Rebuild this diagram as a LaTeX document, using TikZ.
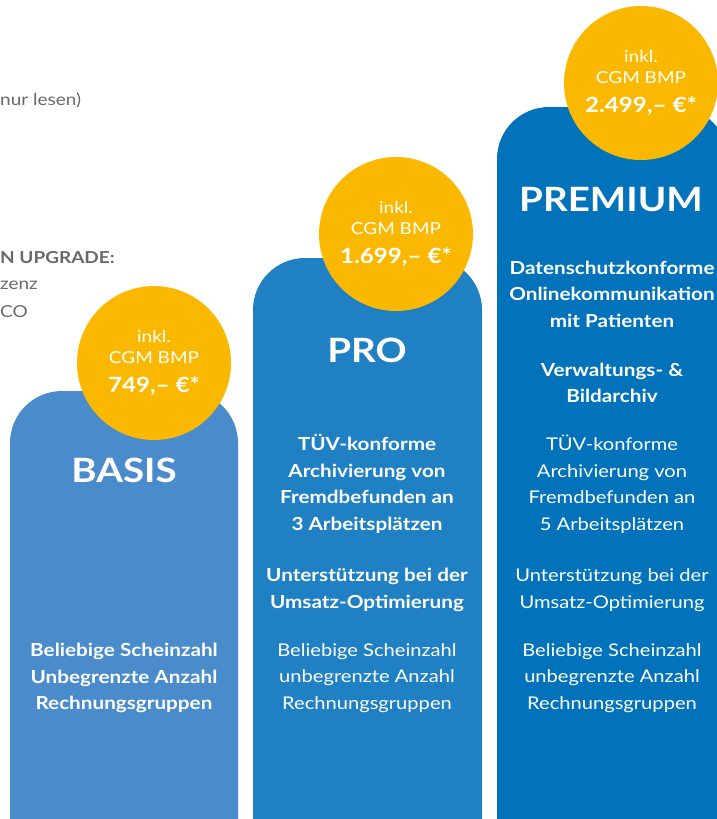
\documentclass[tikz,border=0pt]{standalone}
\usepackage{fontspec}
\setmainfont{Lato}
\newfontfamily\widefont{Lato}[FakeStretch=1.15]
\definecolor{basisblue}{RGB}{74,140,203}
\definecolor{problue}{RGB}{31,128,196}
\definecolor{premiumblue}{RGB}{2,115,187}
\definecolor{pricegold}{RGB}{250,185,0}
\definecolor{notegray}{RGB}{105,105,107}
\newcommand{\drawtarif}[4]{
  \fill[#4,rounded corners=52pt] (#1,860) -- (#1,#3) -- (#2,#3) -- (#2,860);
}
\newcommand{\pricefont}{\bfseries\fontsize{21}{24}\selectfont}
\tikzset{
  pricetag/.style={circle,fill=pricegold,minimum size=154pt,inner sep=0pt,
    text=white,align=center,font=\widefont\fontsize{16.5}{21}\selectfont},
  tiername/.style={text=white,inner sep=0pt,font=\widefont\bfseries\fontsize{33.5}{40}\selectfont},
  featbold/.style={text=white,align=center,inner sep=0pt,font=\widefont\bfseries\fontsize{18}{26.5}\selectfont},
  featplain/.style={text=white,align=center,inner sep=0pt,font=\widefont\fontsize{17.5}{26.5}\selectfont},
  note/.style={text=notegray,anchor=west,inner sep=0pt,font=\widefont\fontsize{16.5}{18}\selectfont}
}

\begin{document}
\begin{tikzpicture}[x=1pt,y=-1pt]
  \useasboundingbox (0,0) rectangle (716,819);

  %% cut-off notes on the left
  \node[note] (notelesen) at (0,100) {nur lesen)};
  \node[note,font=\widefont\bfseries\fontsize{16.5}{18}\selectfont] (noteupgrade) at (0,258) {N UPGRADE:};
  \node[note] (notelizenz) at (0,285) {zenz};
  \node[note] (noteco) at (0,312) {CO};

  %% columns
  \drawtarif{10}{238}{391}{basisblue}
  \drawtarif{253}{482}{258}{problue}
  \drawtarif{497}{728}{107}{premiumblue}

  %% price circles
  \node[pricetag] (basisprice) at (154,363) {inkl.\\CGM BMP\\[8pt]{\pricefont 749,– €*}};
  \node[pricetag] (proprice) at (396,234) {inkl.\\CGM BMP\\[8pt]{\pricefont 1.699,– €*}};
  \node[pricetag] (premiumprice) at (641,83) {inkl.\\CGM BMP\\[8pt]{\pricefont 2.499,– €*}};

  %% BASIS
  \node[tiername] (basisname) at (124,470) {BASIS};
  \node[featbold] (basisfeat) at (124,678) {Beliebige Scheinzahl\\Unbegrenzte Anzahl\\Rechnungsgruppen};

  %% PRO
  \node[tiername] (proname) at (367,350) {PRO};
  \node[featbold] (proarchiv) at (367,484) {TÜV-konforme\\Archivierung von\\Fremdbefunden an\\3 Arbeitsplätzen};
  \node[featbold] (proumsatz) at (367,590) {Unterstützung bei der\\Umsatz-Optimierung};
  \node[featplain] (profeat) at (367,678) {Beliebige Scheinzahl\\unbegrenzte Anzahl\\Rechnungsgruppen};

  %% PREMIUM
  \node[tiername] (premiumname) at (611,200) {PREMIUM};
  \node[featbold] (premiumonline) at (612,294) {Datenschutzkonforme\\Onlinekommunikation\\mit Patienten};
  \node[featbold] (premiumbild) at (612,383) {Verwaltungs- \&\\Bildarchiv};
  \node[featplain] (premiumarchiv) at (612,484) {TÜV-konforme\\Archivierung von\\Fremdbefunden an\\5 Arbeitsplätzen};
  \node[featplain] (premiumumsatz) at (612,590) {Unterstützung bei der\\Umsatz-Optimierung};
  \node[featplain] (premiumfeat) at (612,678) {Beliebige Scheinzahl\\unbegrenzte Anzahl\\Rechnungsgruppen};
\end{tikzpicture}
\end{document}
